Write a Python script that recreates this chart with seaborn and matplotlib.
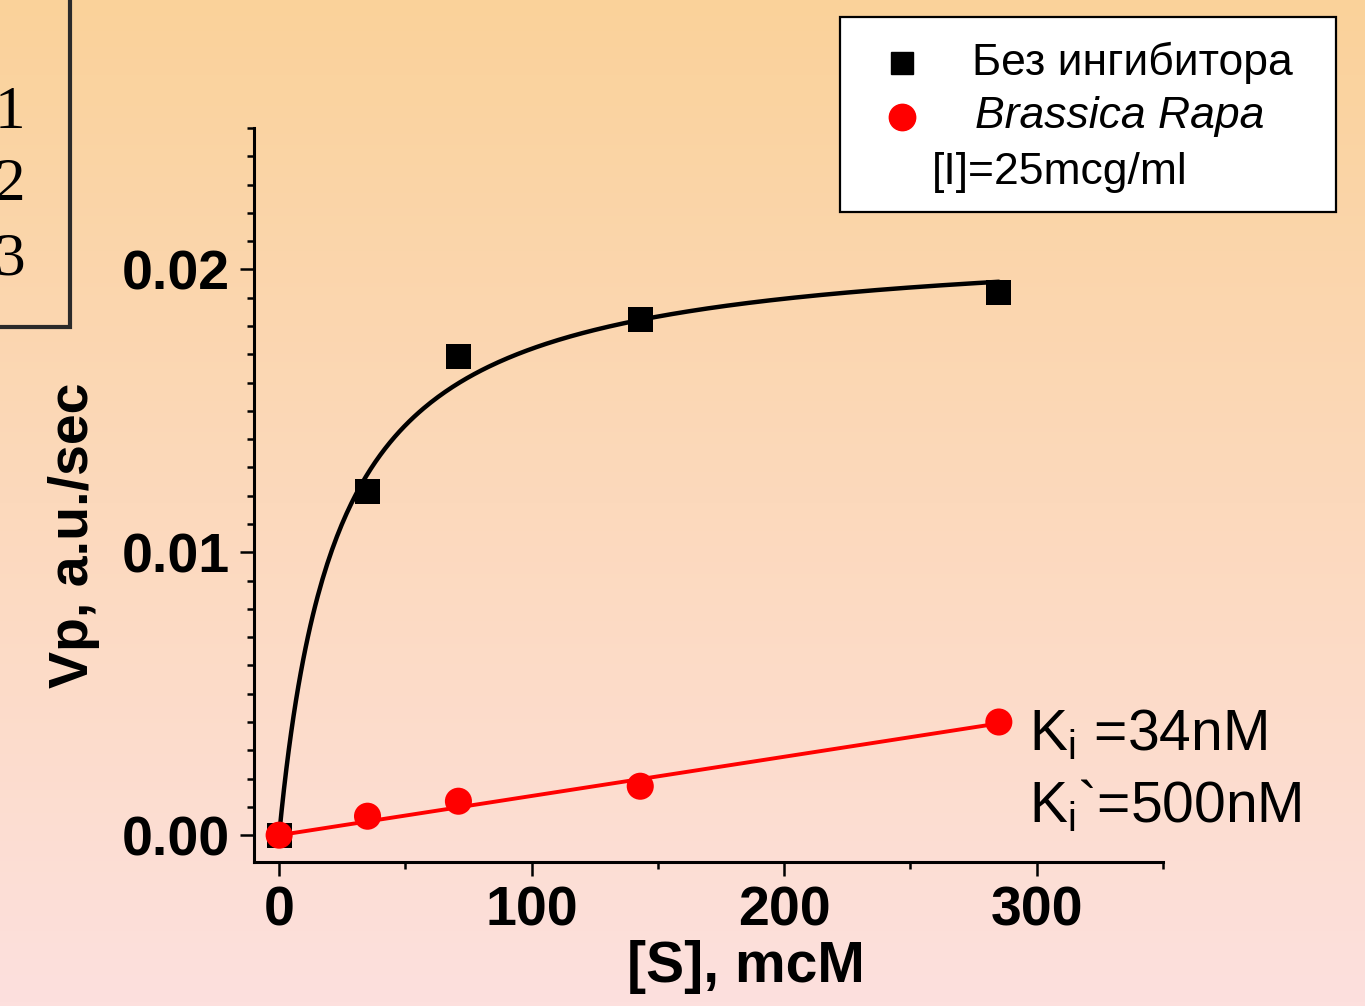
import numpy as np
import pandas as pd
import matplotlib
matplotlib.use("Agg")
import matplotlib.pyplot as plt
from matplotlib.colors import LinearSegmentedColormap
from matplotlib.lines import Line2D
from matplotlib.patches import Rectangle
from matplotlib.ticker import MultipleLocator
import seaborn as sns

# === Data ===
substrate = [0, 35, 71, 143, 285]  # [S], mcM
v_no_inhibitor = [0.0, 0.01214, 0.01692, 0.01823, 0.01919]
v_brassica = [0.0, 0.00067, 0.0012, 0.00173, 0.0040]
x_ticks = [0, 100, 200, 300]
y_ticks = [0.00, 0.01, 0.02]
legend_labels = ["Без ингибитора", "Brassica Rapa", "[I]=25mcg/ml"]
ki_labels = [r"K$_\mathregular{i}$ =34nM", r"K$_\mathregular{i}$`=500nM"]
corner_labels = ["1", "2", "3"]

# === Style ===
sns.set_style("ticks")
plt.rcParams["font.family"] = ["Liberation Sans", "DejaVu Sans"]
plt.rcParams["mathtext.default"] = "regular"
plt.rcParams.update({"text.color": "black", "axes.labelcolor": "black",
                     "xtick.color": "black", "ytick.color": "black",
                     "axes.edgecolor": "black"})

df = pd.DataFrame({"S": substrate, "v0": v_no_inhibitor, "vi": v_brassica})

# === Fits ===
# Michaelis-Menten, least squares: scan Km, Vmax solved in closed form
s_arr = np.array(substrate, float)
v_arr = np.array(v_no_inhibitor, float)
best = None
for km_try in np.linspace(1, 100, 2000):
    g = s_arr / (km_try + s_arr)
    vm_try = np.sum(g * v_arr) / np.sum(g * g)
    err = np.sum((vm_try * g - v_arr) ** 2)
    if best is None or err < best[0]:
        best = (err, vm_try, km_try)
_, vmax, km = best
s_fit = np.linspace(0, substrate[-1], 300)
fit_mm = pd.DataFrame({"S": s_fit, "v": vmax * s_fit / (km + s_fit)})

# Linear fit through the origin for the inhibited series
k_lin = np.sum(s_arr * np.array(v_brassica)) / np.sum(s_arr ** 2)
fit_lin = pd.DataFrame({"S": [0, substrate[-1]], "v": [0, k_lin * substrate[-1]]})

# === Figure + gradient background ===
fig = plt.figure(figsize=(13.65, 10.06), dpi=100)
bg = fig.add_axes([0, 0, 1, 1], zorder=-10)
grad = LinearSegmentedColormap.from_list("bg", ["#FAD29A", "#FCD9BC", "#FDE0DE"])
bg.imshow(np.linspace(0, 1, 256)[:, None], aspect="auto", cmap=grad, extent=[0, 1, 0, 1])
bg.set_axis_off()

ax = fig.add_axes([0.186, 0.1431, 0.666, 0.7297])
ax.set_facecolor("none")

sns.lineplot(data=fit_mm, x="S", y="v", color="black", lw=3.2, ax=ax)
sns.lineplot(data=fit_lin, x="S", y="v", color="#FF0000", lw=2.8, ax=ax)
sns.scatterplot(data=df, x="S", y="v0", marker="s", s=330, color="black",
                edgecolor="none", ax=ax, zorder=3)
sns.scatterplot(data=df, x="S", y="vi", marker="o", s=380, color="#FF0000",
                edgecolor="none", ax=ax, zorder=4)

ax.set_xlim(-10, 350)
ax.set_ylim(-0.00095, 0.025)
ax.set_xticks(x_ticks)
ax.set_yticks(y_ticks)
ax.set_yticklabels([f"{t:.2f}" for t in y_ticks])
ax.xaxis.set_minor_locator(MultipleLocator(50))
ax.yaxis.set_minor_locator(MultipleLocator(0.001))
ax.tick_params(which="major", length=10, width=1.8, labelsize=40, pad=7)
ax.tick_params(which="minor", length=5, width=1.8)
for lbl in ax.get_xticklabels() + ax.get_yticklabels():
    lbl.set_fontweight("bold")

for side in ["top", "right"]:
    ax.spines[side].set_visible(False)
for side in ["left", "bottom"]:
    ax.spines[side].set_linewidth(2.2)

ax.set_xlabel("[S], mcM", fontsize=41, fontweight="bold")
ax.set_ylabel("Vp, a.u./sec", fontsize=40, fontweight="bold")
ax.xaxis.set_label_coords(0.541, -0.106)
ax.yaxis.set_label_coords(-0.169, 0.4455)

# Ki annotations
ax.text(297, 0.00301, ki_labels[0], fontsize=41, va="baseline", clip_on=False)
ax.text(297, 0.00046, ki_labels[1], fontsize=41, va="baseline", clip_on=False)

# === Legend box (manual) ===
fig.add_artist(Rectangle((0.6154, 0.7893), 0.3634, 0.1938, transform=fig.transFigure,
                         facecolor="white", edgecolor="black", lw=1.6))
fig.add_artist(Line2D([0.6608], [0.9374], transform=fig.transFigure, marker="s",
                      markersize=16, color="black", ls="none"))
fig.add_artist(Line2D([0.6608], [0.8837], transform=fig.transFigure, marker="o",
                      markersize=19, color="#FF0000", ls="none"))
fig.text(0.7121, 0.9374, legend_labels[0], fontsize=32, va="center")
fig.text(0.7140, 0.8837, legend_labels[1], fontsize=32, va="center", style="italic")
fig.text(0.6828, 0.8290, legend_labels[2], fontsize=32, va="center")

# === Clipped box in the top-left corner ===
fig.add_artist(Rectangle((-0.02, 1 - 327 / 1006), 0.02 + 70 / 1365, 0.4, transform=fig.transFigure,
                         facecolor="none", edgecolor="#2a2a2a", lw=3))
for lbl, ypx in zip(corner_labels, [113, 185, 260]):
    fig.text(25 / 1365, 1 - ypx / 1006, lbl, fontsize=44, ha="right", va="center",
             family=["Liberation Serif", "DejaVu Serif"])

fig.savefig("out.png", dpi=100)
